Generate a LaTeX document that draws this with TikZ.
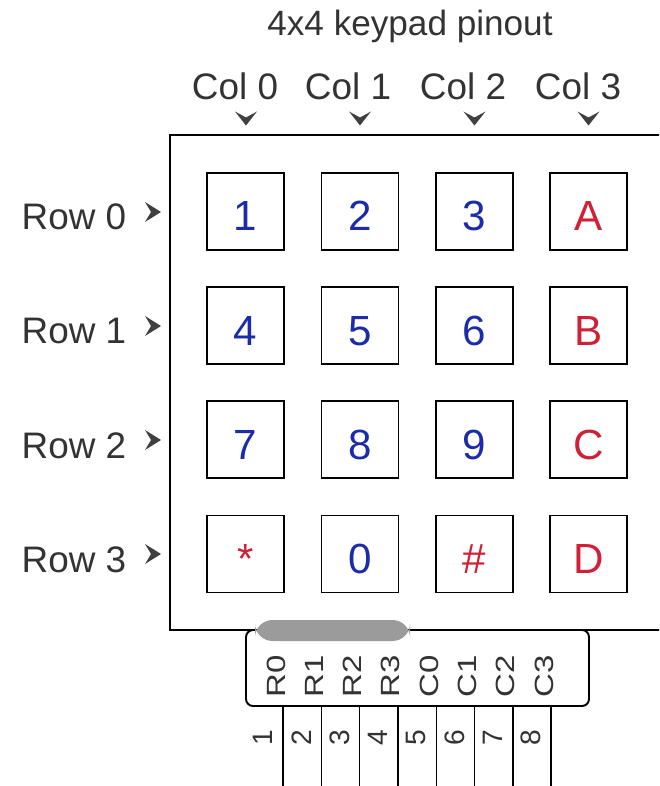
\documentclass[tikz,border=0pt]{standalone}
\usepackage{fontspec}
\setmainfont{Liberation Sans}
\usepackage{tikz}
\usetikzlibrary{positioning,calc}
\definecolor{keyblue}{RGB}{28,44,168}
\definecolor{keyred}{RGB}{208,32,56}
\definecolor{bargray}{RGB}{155,155,155}
\newcommand\widetxt[1]{\scalebox{1.25}[1]{#1}}

\begin{document}
\begin{tikzpicture}[x=0.02cm, y=-0.02cm,
  lbl/.style={font=\fontsize{21}{25}\selectfont, text=black!80, anchor=base},
  keybox/.style={draw, line width=1.1pt, minimum size=1.54cm, inner sep=0pt,
                 text height=0.78cm, text depth=0cm, font=\fontsize{24}{28}\selectfont},
  numkey/.style={keybox, text=keyblue},
  symkey/.style={keybox, text=keyred},
  pinlbl/.style={rotate=90, inner sep=0pt, font=\fontsize{15}{17}\selectfont, text=black!80},
  pinnum/.style={rotate=90, inner sep=0pt, font=\fontsize{16}{18}\selectfont, text=black!80},
  pinline/.style={line width=0.8pt},
  pics/downtip/.style={code={\fill[black!75] (-11,-7) -- (0,7) -- (11,-7) -- (0,-1) -- cycle;}},
  pics/righttip/.style={code={\fill[black!75] (-8,-10) -- (8,0) -- (-8,10) -- (-2,0) -- cycle;}}]
  \clip (0,0) rectangle (659,786);

  % title and column labels
  \node[lbl, font=\fontsize{20}{24}\selectfont] (title) at (410,36) {4x4 keypad pinout};
  \node[lbl] (col0) at (235,100) {Col 0};
  \node[lbl] (col1) at (348,100) {Col 1};
  \node[lbl] (col2) at (463,100) {Col 2};
  \node[lbl] (col3) at (578,100) {Col 3};
  \pic at (246,118.5) {downtip};
  \pic at (360,118.5) {downtip};
  \pic at (474.5,118.5) {downtip};
  \pic at (588.5,118.5) {downtip};

  % keypad body
  \draw[line width=1.1pt] (170,135) rectangle (700,630);

  % row labels
  \node[lbl] (row0) at (74,230) {Row 0};
  \node[lbl] (row1) at (74,344) {Row 1};
  \node[lbl] (row2) at (74,458) {Row 2};
  \node[lbl] (row3) at (74,572) {Row 3};
  \pic at (153,212) {righttip};
  \pic at (153,326) {righttip};
  \pic at (153,440) {righttip};
  \pic at (153,554) {righttip};

  % keys
  \node[numkey] (k00) at (245.5,211.5) {1};
  \node[numkey] (k01) at (360,211.5) {2};
  \node[numkey] (k02) at (474.5,211.5) {3};
  \node[symkey] (k03) at (588.5,211.5) {A};
  \node[numkey] (k10) at (245.5,325.7) {4};
  \node[numkey] (k11) at (360,325.7) {5};
  \node[numkey] (k12) at (474.5,325.7) {6};
  \node[symkey] (k13) at (588.5,325.7) {B};
  \node[numkey] (k20) at (245.5,439.8) {7};
  \node[numkey] (k21) at (360,439.8) {8};
  \node[numkey] (k22) at (474.5,439.8) {9};
  \node[symkey] (k23) at (588.5,439.8) {C};
  \node[symkey] (k30) at (245.5,554) {*};
  \node[numkey] (k31) at (360,554) {0};
  \node[symkey] (k32) at (474.5,554) {\#};
  \node[symkey] (k33) at (588.5,554) {D};

  % connector
  \draw[line width=1.1pt, rounded corners=4, fill=white] (246,630) rectangle (589,706);
  \draw[line width=1.1pt] (246,630) -- (589,630);
  \fill[bargray, rounded corners=10] (255,620) rectangle (410,641);

  \node[pinlbl] (lr0) at (276,676) {\widetxt{R0}};
  \node[pinlbl] (lr1) at (314.3,676) {\widetxt{R1}};
  \node[pinlbl] (lr2) at (352.6,676) {\widetxt{R2}};
  \node[pinlbl] (lr3) at (390.9,676) {\widetxt{R3}};
  \node[pinlbl] (lc0) at (429.2,676) {\widetxt{C0}};
  \node[pinlbl] (lc1) at (467.5,676) {\widetxt{C1}};
  \node[pinlbl] (lc2) at (505.8,676) {\widetxt{C2}};
  \node[pinlbl] (lc3) at (544.1,676) {\widetxt{C3}};

  % pins
  \coordinate (p1t) at (283,706);   \coordinate (p1b) at (283,786);
  \coordinate (p2t) at (321.3,706); \coordinate (p2b) at (321.3,786);
  \coordinate (p3t) at (359.6,706); \coordinate (p3b) at (359.6,786);
  \coordinate (p4t) at (397.9,706); \coordinate (p4b) at (397.9,786);
  \coordinate (p5t) at (436.2,706); \coordinate (p5b) at (436.2,786);
  \coordinate (p6t) at (474.5,706); \coordinate (p6b) at (474.5,786);
  \coordinate (p7t) at (512.8,706); \coordinate (p7b) at (512.8,786);
  \coordinate (p8t) at (551.1,706); \coordinate (p8b) at (551.1,786);
  \draw[pinline] (p1t) -- (p1b);
  \draw[pinline] (p2t) -- (p2b);
  \draw[pinline] (p3t) -- (p3b);
  \draw[pinline] (p4t) -- (p4b);
  \draw[pinline] (p5t) -- (p5b);
  \draw[pinline] (p6t) -- (p6b);
  \draw[pinline] (p7t) -- (p7b);
  \draw[pinline] (p8t) -- (p8b);

  \node[pinnum] (n1) at (263,738) {1};
  \node[pinnum] (n2) at (301.3,738) {2};
  \node[pinnum] (n3) at (339.6,738) {3};
  \node[pinnum] (n4) at (377.9,738) {4};
  \node[pinnum] (n5) at (416.2,738) {5};
  \node[pinnum] (n6) at (454.5,738) {6};
  \node[pinnum] (n7) at (492.8,738) {7};
  \node[pinnum] (n8) at (531.1,738) {8};
\end{tikzpicture}
\end{document}
